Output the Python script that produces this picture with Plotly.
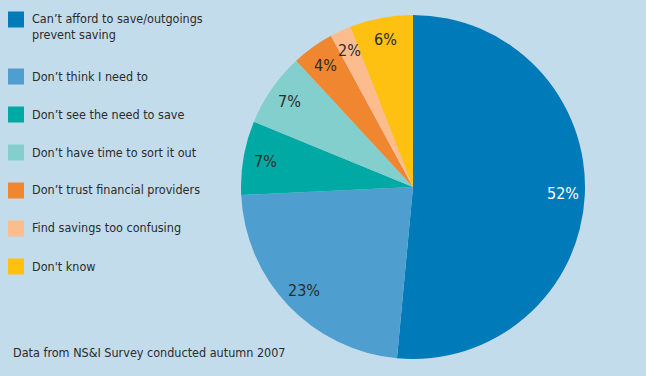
import math
import plotly.graph_objects as go

# Reasons for not saving (percent of respondents)
categories = [
    "Can\u2019t afford to save/outgoings<br>prevent saving",
    "Don\u2019t think I need to",
    "Don\u2019t see the need to save",
    "Don\u2019t have time to sort it out",
    "Don\u2019t trust financial providers",
    "Find savings too confusing",
    "Don't know",
]
values = [52, 23, 7, 7, 4, 2, 6]
colors = ["#007AB8", "#4E9FCF", "#00A9A4", "#82CFCE", "#F18630", "#FDBC8E", "#FEC011"]
label_colors = ["#FFFFFF", "#2B2B2B", "#2B2B2B", "#2B2B2B", "#2B2B2B", "#2B2B2B", "#2B2B2B"]
footnote = "Data from NS&I Survey conducted autumn 2007"

W, H = 646, 376
BG = "#C3DCEC"
TEXT = "#2B2B2B"
FONT = "'DejaVu Sans Condensed', 'Liberation Sans Narrow', 'Open Sans', sans-serif"

# pie placement in pixels (centre and radius)
cx, cy_top, R = 413, 187, 172
dom_x = [(cx - R) / W, (cx + R) / W]
dom_y = [(H - cy_top - R) / H, (H - cy_top + R) / H]

fig = go.Figure(
    go.Pie(
        labels=[c.replace("<br>", " ") for c in categories],
        values=values,
        sort=False,
        direction="clockwise",
        rotation=0,
        marker=dict(colors=colors, line=dict(width=0)),
        textinfo="none",
        hoverinfo="label+percent",
        showlegend=False,
        domain=dict(x=dom_x, y=dom_y),
    )
)

annotations = []
shapes = []

# percentage labels placed along each slice's bisector
total = sum(values)
cum = 0.0
label_r = 150
for v, lc in zip(values, label_colors):
    mid = (cum + v / 2) / total * 2 * math.pi
    cum += v
    px = cx + label_r * math.sin(mid)
    py_up = (H - cy_top) + label_r * math.cos(mid)
    annotations.append(dict(
        x=px / W, y=py_up / H, xref="paper", yref="paper",
        text=f"{v}%", showarrow=False, xanchor="center", yanchor="middle",
        font=dict(family=FONT, size=16, color=lc),
    ))

# hand-built key on the left
sq = 16
row_gap = 38
line_h = 19
y_center = 19.5
for i, (name, col) in enumerate(zip(categories, colors)):
    if i > 0:
        y_center += row_gap + (line_h if i == 1 else 0)
    top = y_center - sq / 2
    shapes.append(dict(
        type="rect", xref="paper", yref="paper",
        x0=8 / W, x1=(8 + sq) / W,
        y0=(H - top - sq) / H, y1=(H - top) / H,
        fillcolor=col, line=dict(width=0),
    ))
    annotations.append(dict(
        x=30 / W, y=(H - top + 2) / H, xref="paper", yref="paper",
        text=name, showarrow=False, xanchor="left", yanchor="top", align="left",
        font=dict(family=FONT, size=12.5, color=TEXT),
    ))

annotations.append(dict(
    x=11 / W, y=(H - 352) / H, xref="paper", yref="paper",
    text=footnote, showarrow=False, xanchor="left", yanchor="middle",
    font=dict(family=FONT, size=12.5, color=TEXT),
))

fig.update_layout(
    width=W, height=H,
    margin=dict(l=0, r=0, t=0, b=0),
    paper_bgcolor=BG, plot_bgcolor=BG,
    annotations=annotations,
    shapes=shapes,
)

fig.write_html("out.html", config={"displayModeBar": False})
